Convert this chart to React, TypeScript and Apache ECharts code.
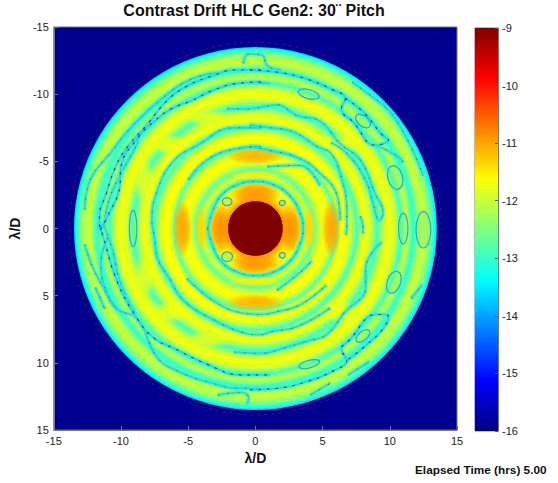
import React, { useEffect, useRef } from "react";
import * as echarts from "echarts";

const title = "Contrast Drift HLC Gen2: 30\u00A8 Pitch";
const axisName = "\u03BB/D";
const footer = "Elapsed Time (hrs) 5.00";
const jetStops = ["#000080", "#0000ff", "#0080ff", "#00ffff", "#80ff80", "#ffff00", "#ff8000", "#ff0000", "#800000"];

// Radial profile: [radius, log10 contrast], outermost first
const radialBands = [
  [13.5, -13.7], [13.35, -13.3], [13.15, -12.8], [12.9, -12.35], [12.6, -12.05], [12.3, -12.05], [12.1, -12.4], [11.9, -12.9],
  [11.7, -13.05], [11.5, -12.45], [11.25, -12.05], [11.05, -12.4], [10.85, -13], [10.65, -12.5], [10.4, -11.95], [10.1, -11.75],
  [9.8, -11.75], [9.55, -12], [9.3, -12.5], [9.05, -12.95], [8.8, -12.4], [8.55, -11.95], [8.25, -11.7], [7.95, -11.85],
  [7.75, -12.35], [7.55, -12.95], [7.3, -12.35], [7.05, -11.85], [6.75, -11.65], [6.45, -11.65], [6.25, -12], [6.05, -12.8],
  [5.85, -12.3], [5.6, -11.8], [5.2, -11.65], [4.9, -11.8], [4.65, -12.15], [4.4, -12.7], [4.2, -12.4], [3.95, -11.85],
  [3.75, -12.3], [3.55, -12.85], [3.4, -12.1], [3.2, -11.7], [2.9, -11.55], [2.6, -11.45], [2.3, -11.2], [2.05, -10.8], [2.03, -9], [0, -9],
];

// Soft lobes: [x, y, rx, ry, level]
const lobes = [
  [-6.2, -6.2, 1.7, 0.8, -11.72], [6.2, -6.2, 1.6, 0.8, -11.72], [-6.2, 6.2, 1.7, 0.8, -11.72], [6.2, 6.2, 1.6, 0.8, -11.72],
  [-8.2, -3.4, 0.8, 1.8, -11.8], [-8.2, 3.4, 0.8, 1.8, -11.8], [-3.4, -8.2, 1.8, 0.7, -11.8], [-3.4, 8.2, 1.8, 0.7, -11.8],
  [0, -5.4, 2.3, 0.65, -11.1], [0, 5.5, 2.3, 0.65, -11.1], [-5.45, 0, 0.72, 2.2, -11], [5.65, 0, 0.72, 2.2, -11],
  [-4, 0, 0.5, 1.8, -11.35], [4, 0, 0.5, 1.8, -11.35], [0, -3.95, 2.1, 0.32, -11.5], [0, 3.95, 2.1, 0.32, -11.5],
  [0, -2.6, 1.9, 0.9, -10.9], [0, 2.6, 1.9, 0.9, -10.9], [-2.6, 0, 0.9, 1.9, -10.85], [2.6, 0, 0.9, 1.9, -10.85],
];

// The core disc, redrawn above the lobes: [radius, level]
const coreDisc = [[2.03, -9]];

// Small closed contours: [x, y, rx, ry, tilt in degrees]
const loops = [
  [-2.1, -2, 0.36, 0.3, 0], [2, -1.9, 0.22, 0.2, 0], [-2.1, 2.1, 0.4, 0.36, 0], [2, 2, 0.22, 0.2, 0],
  [3.96, -10, 0.8, 0.34, 15], [8, -8, 0.65, 0.38, 40], [10.4, -3.8, 0.55, 0.9, -15], [11, 0, 0.35, 1.15, 0],
  [12.5, 0.1, 0.55, 1.35, 0], [4, 10.1, 0.8, 0.28, -15], [8, 8, 0.62, 0.33, -40], [10.3, 4, 0.5, 0.85, 20],
  [-9.1, 0, 0.28, 1.35, 0],
];

// Strong contours (dark core)
const strongContours = [
  [[0.4, -11.8], [-1.6, -11.8], [-3.1, -11.4], [-5.1, -10.6], [-6.6, -9.5], [-8, -7.8], [-9.5, -6.1], [-10.4, -4.6], [-11.1, -2.6], [-11.6, -0.9], [-11.6, 0]],
  [[0.4, -10.9], [-1.4, -10.8], [-3.1, -10.3], [-4.8, -9.5], [-6.3, -8.9], [-7.5, -8], [-8.7, -6.8], [-10, -4.6], [-10.1, -3.1], [-11, -0.9], [-11.6, 0.2]],
  [[-0.4, -11.8], [1.9, -11.6], [3.9, -11.1], [5.8, -10.3], [6.7, -9.7], [6.4, -8.9], [7.3, -7.9], [8.9, -6.2], [9.9, -6.6], [9.4, -7], [8.1, -8.6], [6.7, -9.7]],
  [[-11.6, -0.3], [-11.3, 0.7], [-10.3, 3.9], [-8.8, 6.7], [-7.5, 8.2], [-6.1, 8.9], [-3.6, 10.1], [-1.1, 10.9], [0.4, 10.9], [1.1, 10.9]],
  [[-0.4, 12], [1.6, 11.9], [3.8, 11.4], [5.8, 10.6], [6.8, 9.8], [6.4, 9], [7, 8.3], [9, 6.4], [9.9, 6.5], [9.8, 7], [8, 8.9], [6.8, 9.8]],
];

// Fainter contours
const faintContours = [
  [[-12.7, 1.2], [-12.1, 2.9], [-11.3, 4.4], [-10.3, 6], [-8.8, 6.7], [-7.3, 9.6], [-5.8, 10.6], [-3.6, 11.4], [-1.1, 11.9], [0.4, 11.9]],
  [[-12.7, -1.4], [-12.3, -3.6], [-10.8, -5.6], [-9, -7.8], [-6.8, -9.8], [-4.8, -11.1], [-2.8, -11.6]],
  [[-8.7, -6.8], [-8.9, -6.1], [-10, -4.1], [-10.9, -2.1], [-11.3, 0]],
  [[-2.1, -8.9], [-0.6, -8.9], [1.6, -9.2], [3.1, -8.4], [4.8, -8], [6.3, -6.3], [7.8, -5.1], [8.9, -2.6], [9.5, -1.2], [9.2, -0.6], [8.8, -1.7], [8.2, -3.6], [6.8, -5.6], [5.6, -6.4]],
  [[0.4, -7.5], [-1.6, -7.5], [-4.3, -6.2], [-6.1, -5], [-7.3, -2.8], [-7.7, -0.6], [-7.5, 0.7], [-7.3, 2.2], [-6.4, 3.7], [-5.3, 5.4], [-3.1, 6.8], [-1.1, 7.7], [0.4, 7.9], [1.1, 7.7], [3.1, 7.3], [5.6, 5.9]],
  [[-0.4, -7.7], [1.1, -7.5], [2.8, -7.2], [4.6, -6.1], [5.6, -5.6], [6.3, -4.1], [6.8, -1.4], [6.8, 0], [6.7, 0.5]],
  [[0.4, -6.1], [-1.6, -5.9], [-3.6, -5.1], [-5, -3.6]],
  [[-0.4, -6.1], [1.1, -5.8], [3.1, -5.3], [4.6, -4.3], [6.1, -2.4], [6.3, -0.6]],
  [[-5.1, 3.7], [-3.1, 5.4], [-0.9, 6.3], [0.4, 6.4], [1.6, 6.2], [3.3, 5.7], [5.3, 4.2]],
  [[0.9, -4.6], [3.3, -4.7], [4.8, -3.2]],
  [[1.6, 4.6], [3.3, 3.3], [4.2, 2.4]],
  [[-1.6, 9.2], [0.4, 9.3], [2.1, 8.9], [3.8, 8.4], [5.3, 7.9], [6.6, 6.3], [8.2, 4.4], [8.2, 3], [9.4, 1], [9.2, 1.2]],
  [[-11.3, -0.3], [-10.6, 1.7], [-10.1, 3.9], [-8.9, 6.4]],
  [[-11, 0.7], [-11.5, 2.7], [-11, 4.9], [-10.3, 6]],
  [[-0.9, -12.3], [-0.5, -13], [0.5, -12.9], [0.9, -12.1], [1.9, -11.8]],
  [[-2.8, 12.4], [-1.1, 12.2], [-0.5, 12.6], [-0.6, 13.1]],
  [[-0.4, -10.9], [1.1, -10.8]],
  [[7.2, -10.9], [8.3, -10.1], [10, -8.7], [11.1, -7], [11.9, -5.4], [12.5, -3.9]],
  [[6.9, 10.9], [8.5, 9.9]],
  [[4.1, 12.4], [5.6, 11.5]],
  [[11.6, 5.2], [12.4, 4.2]],
  [[9, -6.2], [10.7, -5.3], [11, -4.9]],
  [[7.8, -0.9], [8, -0.1], [8, 0.4]],
  [[-11.9, 4.4], [-11.2, 6]],
  [[-3.55, 0], [-3.2, -1.2], [-2.5, -2.5], [-1.2, -3.3], [0, -3.5], [1.2, -3.3], [2.5, -2.5], [3.3, -1.2], [3.55, 0], [3.3, 1.2], [2.5, 2.5], [1.2, 3.3], [0, 3.5], [-1.2, 3.3], [-2.5, 2.5], [-3.2, 1.2], [-3.55, 0]],
];

const rimRadius = 13.85;
const FONT = "'Liberation Sans', Arial, sans-serif";

function jet(v: number): string {
  return echarts.color.lerp((v + 16) / 7, jetStops) as string;
}
function withAlpha(v: number, a: number): string {
  return echarts.color.modifyAlpha(jet(v), a) as string;
}

function contourLayers(list: number[][][], coreColor: string, coreWidth: number, dash: number[]) {
  const out: any[] = [];
  const make = (d: number[][], lineStyle: any) => ({
    type: "line", xAxisIndex: 0, yAxisIndex: 0, data: d, smooth: 0.45, showSymbol: false, symbol: "none",
    silent: true, lineStyle, z: 4,
  });
  list.forEach((d) => out.push(make(d, { color: "#50e8b0", width: 5, opacity: 0.5 })));
  list.forEach((d) => out.push(make(d, { color: "#12dcf0", width: 1.8, opacity: 0.95 })));
  list.forEach((d) => out.push(make(d, { color: coreColor, width: coreWidth, type: dash, opacity: 0.9 })));
  return out;
}

export default function App() {
  const ref = useRef<HTMLDivElement>(null);
  useEffect(() => {
    document.body.style.margin = "0";
    const chart = echarts.init(ref.current!, undefined, { renderer: "svg" });
    const tickLabel = { fontFamily: FONT, fontSize: 11, color: "#222" };
    const nameStyle = { fontFamily: FONT, fontSize: 14, fontWeight: "bold", color: "#111" };
    const outer = radialBands[0][0];
    const discStops = [...radialBands].reverse().map(([r, v]) => ({ offset: r / outer, color: jet(v) }));
    chart.setOption({
      animation: false,
      backgroundColor: "#ffffff",
      title: {
        text: title, left: 249, top: -3, textAlign: "center",
        textStyle: { fontFamily: FONT, fontSize: 16, fontWeight: "bold", color: "#111" },
      },
      grid: [
        { left: 53, top: 27, width: 404, height: 403, show: true, backgroundColor: "#000090", borderColor: "#777", borderWidth: 1 },
        { left: 475, top: 28, width: 23, height: 403, show: true, borderColor: "#777", borderWidth: 1 },
      ],
      xAxis: [
        {
          gridIndex: 0, type: "value", min: -15, max: 15, interval: 5, position: "bottom", z: 10,
          name: axisName, nameLocation: "middle", nameGap: 18, nameTextStyle: nameStyle,
          splitLine: { show: false }, axisLine: { onZero: false, lineStyle: { color: "#777" } },
          axisTick: { inside: true, length: 4, lineStyle: { color: "#777" } }, axisLabel: { ...tickLabel, margin: 5 },
        },
        { gridIndex: 1, type: "value", min: 0, max: 1, show: false },
      ],
      yAxis: [
        {
          gridIndex: 0, type: "value", min: -15, max: 15, interval: 5, inverse: true, z: 10,
          name: axisName, nameLocation: "middle", nameGap: 27, nameRotate: 90, nameTextStyle: nameStyle,
          splitLine: { show: false }, axisLine: { onZero: false, lineStyle: { color: "#777" } },
          axisTick: { inside: true, length: 4, lineStyle: { color: "#777" } }, axisLabel: { ...tickLabel, margin: 5 },
        },
        {
          gridIndex: 1, type: "value", min: -16, max: -9, interval: 1, position: "right", z: 10,
          splitLine: { show: false }, axisLine: { onZero: false, lineStyle: { color: "#777" } },
          axisTick: { inside: true, length: 3, lineStyle: { color: "#555" } }, axisLabel: { ...tickLabel, margin: 4 },
        },
      ],
      series: [
        {
          type: "custom", xAxisIndex: 0, yAxisIndex: 0, data: [[outer]], silent: true, z: 1,
          renderItem: (_p: any, api: any) => {
            const c = api.coord([0, 0]);
            const r = api.size([api.value(0), api.value(0)])[0];
            return {
              type: "circle", shape: { cx: c[0], cy: c[1], r },
              style: { fill: new echarts.graphic.RadialGradient(0.5, 0.5, 0.5, discStops) },
            };
          },
        },
        {
          type: "custom", xAxisIndex: 0, yAxisIndex: 0, data: lobes, silent: true, z: 2,
          renderItem: (_p: any, api: any) => {
            const c = api.coord([api.value(0), api.value(1)]);
            const s = api.size([api.value(2), api.value(3)]);
            const v = api.value(4);
            return {
              type: "ellipse", shape: { cx: c[0], cy: c[1], rx: s[0], ry: s[1] },
              style: {
                fill: new echarts.graphic.RadialGradient(0.5, 0.5, 0.5, [
                  { offset: 0, color: withAlpha(v, 1) },
                  { offset: 0.55, color: withAlpha(v, 0.75) },
                  { offset: 1, color: withAlpha(v, 0) },
                ]),
              },
            };
          },
        },
        {
          type: "custom", xAxisIndex: 0, yAxisIndex: 0, data: coreDisc, silent: true, z: 3,
          renderItem: (_p: any, api: any) => {
            const c = api.coord([0, 0]);
            const r = api.size([api.value(0), api.value(0)])[0];
            return { type: "circle", shape: { cx: c[0], cy: c[1], r }, style: { fill: jet(api.value(1)) } };
          },
        },
        ...contourLayers(faintContours, "#1060d0", 1, [1.2, 9]),
        ...contourLayers(strongContours, "#0a38d8", 1.2, [2.5, 6]),
        {
          type: "custom", xAxisIndex: 0, yAxisIndex: 0, data: loops, silent: true, z: 5,
          renderItem: (_p: any, api: any) => {
            const c = api.coord([api.value(0), api.value(1)]);
            const s = api.size([api.value(2), api.value(3)]);
            return {
              type: "ellipse", x: c[0], y: c[1], rotation: (-api.value(4) * Math.PI) / 180,
              shape: { cx: 0, cy: 0, rx: s[0], ry: s[1] },
              style: { fill: "rgba(130,240,120,0.4)", stroke: "#12b0ea", lineWidth: 1.2 },
            };
          },
        },
        {
          type: "custom", xAxisIndex: 0, yAxisIndex: 0, data: [[rimRadius]], silent: true, z: 5,
          renderItem: (_p: any, api: any) => {
            const c = api.coord([0, 0]);
            const r = api.size([api.value(0), api.value(0)])[0];
            return {
              type: "circle", shape: { cx: c[0], cy: c[1], r },
              style: { fill: "none", stroke: "#8a1540", lineWidth: 1, lineDash: [3, 4], opacity: 0.6 },
            };
          },
        },
        {
          type: "custom", xAxisIndex: 1, yAxisIndex: 1, data: [[-16, -9]], silent: true, z: 1,
          renderItem: (_p: any, api: any) => {
            const top = api.coord([0, api.value(1)]);
            const bottom = api.coord([1, api.value(0)]);
            return {
              type: "rect",
              shape: { x: top[0], y: top[1], width: bottom[0] - top[0], height: bottom[1] - top[1] },
              style: {
                fill: new echarts.graphic.LinearGradient(0, 1, 0, 0,
                  jetStops.map((color, i) => ({ offset: i / (jetStops.length - 1), color }))),
              },
            };
          },
        },
      ],
      graphic: [
        {
          type: "text", left: 415, top: 464,
          style: { text: footer, fontFamily: FONT, fontSize: 11.8, fontWeight: "bold", fill: "#111" },
        },
      ],
    });
    return () => chart.dispose();
  }, []);
  return <div ref={ref} style={{ position: "absolute", left: 0, top: 0, width: 558, height: 483 }} />;
}
